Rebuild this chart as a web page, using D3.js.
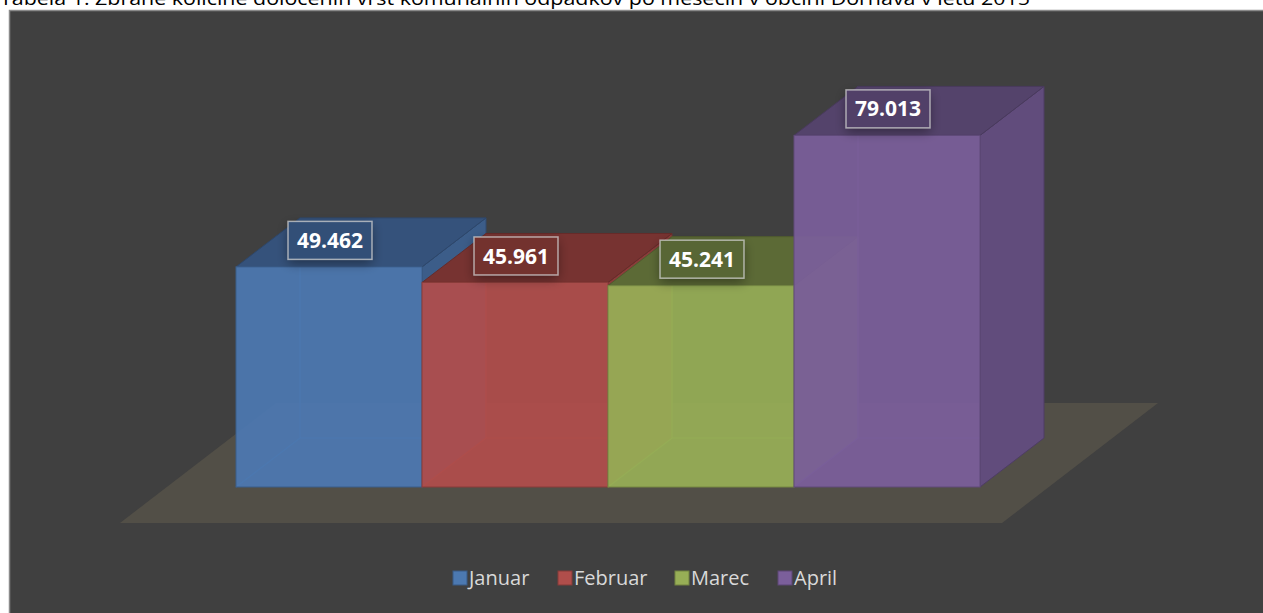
<!DOCTYPE html>
<html lang="sl">
<head>
<meta charset="UTF-8">
<title>Zbrane količine odpadkov</title>
<script src="https://d3js.org/d3.v7.min.js"></script>
<style>
  body { margin: 0; background: #fff; }
  svg { display: block; }
</style>
</head>
<body>
<svg width="1263" height="613"></svg>
<script>
// data
const months = ["Januar", "Februar", "Marec", "April"];
const values = [49.462, 45.961, 45.241, 79.013];
const labels = ["49.462", "45.961", "45.241", "79.013"];
const titleText = "Tabela 1: Zbrane količine določenih vrst komunalnih odpadkov po mesecih v občini Dornava v letu 2015";

// colours per month: front, top, side
const colors = [
  { front: "#4c79b1", top: "#35527b", side: "#3c5d89" },
  { front: "#b04e4b", top: "#773331", side: "#8a3c3a" },
  { front: "#97ae56", top: "#5c6a36", side: "#748540" },
  { front: "#7b5f9b", top: "#54436b", side: "#614c7c" }
];

const svg = d3.select("svg");

// title (cut at top like in the source)
svg.append("text")
  .attr("x", 0).attr("y", 5)
  .attr("font-family", "Open Sans, sans-serif")
  .attr("font-size", 19)
  .attr("fill", "#000")
  .attr("textLength", 1030)
  .attr("lengthAdjust", "spacingAndGlyphs")
  .text(titleText);

// chart area
svg.append("rect")
  .attr("x", 9.5).attr("y", 10.5)
  .attr("width", 1260).attr("height", 610)
  .attr("fill", "#404040")
  .attr("stroke", "#8a8a8a")
  .attr("stroke-width", 1.5);

const defs = svg.append("defs");
const shadow = defs.append("filter").attr("id", "glow")
  .attr("x", "-30%").attr("y", "-40%").attr("width", "160%").attr("height", "200%");
shadow.append("feGaussianBlur").attr("in", "SourceAlpha").attr("stdDeviation", 6).attr("result", "b");
shadow.append("feOffset").attr("in", "b").attr("dy", 4).attr("result", "o");
shadow.append("feComponentTransfer").attr("in", "o").attr("result", "s")
  .append("feFuncA").attr("type", "linear").attr("slope", 0.4);
const merge = shadow.append("feMerge");
merge.append("feMergeNode").attr("in", "s");
merge.append("feMergeNode").attr("in", "SourceGraphic");

// scales
const x = d3.scaleBand().domain(months).range([236, 980]).padding(0);
const y = d3.scaleLinear().domain([0, 80]).range([487, 131]);
const dx = 64, dy = -49; // depth of the boxes

// floor
const base = y(0);
const fl = x.range()[0] - 116, fr = x.range()[1] + 22;
const floor = [[fl, base + 36], [fr, base + 36], [fr + 156, base - 84], [fl + 156, base - 84]];
svg.append("polygon")
  .attr("points", floor.map(p => p.join(",")).join(" "))
  .attr("fill", "#524f47");

const line = d3.line();

const bars = svg.append("g");
months.forEach((m, i) => {
  const x0 = x(m), x1 = x0 + x.bandwidth();
  const yt = y(values[i]);
  const c = colors[i];
  const g = bars.append("g");

  // hidden back edges seen through the glassy faces
  g.append("path")
    .attr("d", line([[x0, base], [x0 + dx, base + dy], [x1 + dx, base + dy]]) +
               line([[x0 + dx, base + dy], [x0 + dx, yt + dy]]))
    .attr("fill", "none")
    .attr("stroke", d3.color(c.front).darker(0.4))
    .attr("stroke-width", 1.2);

  // side face
  g.append("polygon")
    .attr("points", [[x1, yt], [x1 + dx, yt + dy], [x1 + dx, base + dy], [x1, base]].map(p => p.join(",")).join(" "))
    .attr("fill", c.side)
    .attr("stroke", d3.color(c.side).darker(0.6))
    .attr("stroke-width", 1);

  // top face
  g.append("polygon")
    .attr("points", [[x0, yt], [x0 + dx, yt + dy], [x1 + dx, yt + dy], [x1, yt]].map(p => p.join(",")).join(" "))
    .attr("fill", c.top)
    .attr("stroke", d3.color(c.top).darker(0.4))
    .attr("stroke-width", 1);

  // front face
  g.append("rect")
    .attr("x", x0).attr("y", yt)
    .attr("width", x.bandwidth()).attr("height", base - yt)
    .attr("fill", c.front)
    .attr("fill-opacity", 0.93)
    .attr("stroke", d3.color(c.front).darker(0.7))
    .attr("stroke-width", 1);
});

// value labels
months.forEach((m, i) => {
  const cx = x(m) + x.bandwidth() / 2 + 1;
  const cy = y(values[i]) + dy / 2 - 2;
  const g = svg.append("g").attr("transform", `translate(${cx},${cy})`);
  g.append("rect")
    .attr("x", -42).attr("y", -19)
    .attr("width", 84).attr("height", 38)
    .attr("fill", d3.color(colors[i].top).darker(0.1))
    .attr("filter", "url(#glow)");
  g.append("rect")
    .attr("x", -42).attr("y", -19)
    .attr("width", 84).attr("height", 38)
    .attr("fill", "none")
    .attr("stroke", "#d0d0d0")
    .attr("stroke-opacity", 0.75)
    .attr("stroke-width", 1.5);
  g.append("text")
    .attr("text-anchor", "middle")
    .attr("dy", "0.36em")
    .attr("font-family", "Open Sans, sans-serif")
    .attr("font-weight", "bold")
    .attr("font-size", 21)
    .attr("fill", "#fff")
    .text(labels[i]);
});

// legend
const legendX = [453, 558, 675, 778];
const legend = svg.append("g");
months.forEach((m, i) => {
  const g = legend.append("g").attr("transform", `translate(${legendX[i]},578)`);
  g.append("rect")
    .attr("x", 0).attr("y", -7)
    .attr("width", 14).attr("height", 14)
    .attr("fill", colors[i].front)
    .attr("stroke", d3.color(colors[i].front).darker(0.8))
    .attr("stroke-width", 1);
  g.append("text")
    .attr("x", 16).attr("dy", "0.36em")
    .attr("font-family", "Open Sans, sans-serif")
    .attr("font-size", 20)
    .attr("fill", "#d9d9d9")
    .text(m);
});
</script>
</body>
</html>
